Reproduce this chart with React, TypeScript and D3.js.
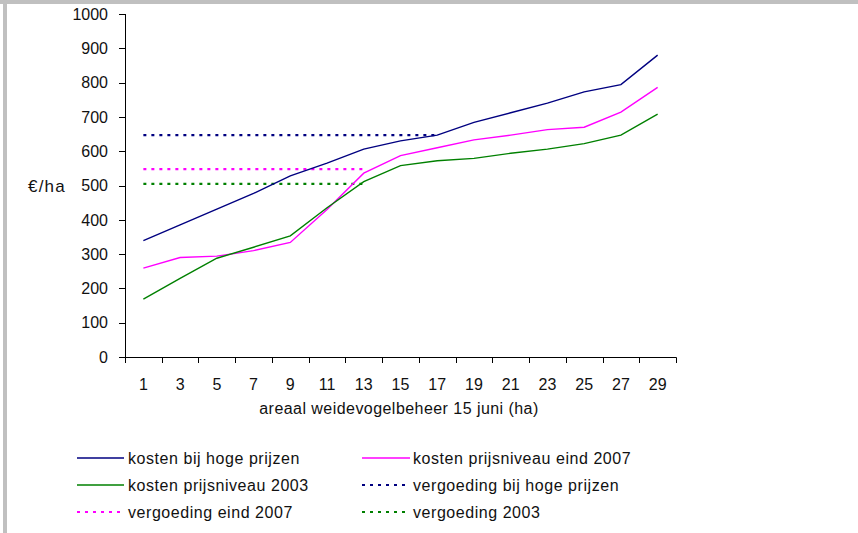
import React from "react";
import * as d3 from "d3";

const categories = [1, 3, 5, 7, 9, 11, 13, 15, 17, 19, 21, 23, 25, 27, 29];
const kostenHoge = [339, 385, 431, 477, 528, 565, 606, 630, 647, 684, 712, 740, 773, 794, 880];
const kosten2007 = [259, 290, 294, 310, 334, 430, 536, 587, 610, 633, 647, 663, 670, 714, 786];
const kosten2003 = [169, 229, 288, 320, 353, 435, 511, 558, 572, 579, 594, 606, 622, 647, 708];
const vergoedingHoge = [647, 647, 647, 647, 647, 647, 647, 647, 647, null, null, null, null, null, null];
const vergoeding2007 = [548, 548, 548, 548, 548, 548, 548, null, null, null, null, null, null, null, null];
const vergoeding2003 = [505, 505, 505, 505, 505, 505, 505, null, null, null, null, null, null, null, null];
const yTicks = [0, 100, 200, 300, 400, 500, 600, 700, 800, 900, 1000];

const seriesNames = [
  "kosten bij hoge prijzen",
  "kosten prijsniveau eind 2007",
  "kosten prijsniveau 2003",
  "vergoeding bij hoge prijzen",
  "vergoeding eind 2007",
  "vergoeding 2003",
];
const xTitle = "areaal weidevogelbeheer 15 juni (ha)";
const yTitle = "€/ha";

const NAVY = "#000080";
const MAGENTA = "#FF00FF";
const GREEN = "#008000";
const FONT = "'Liberation Sans', Arial, sans-serif";

export default function App() {
  const x = d3.scaleBand<number>().domain(categories).range([125, 676]).padding(0);
  const y = d3.scaleLinear().domain([0, 1000]).range([357, 14]);
  const cx = (c: number) => (x(c) as number) + x.bandwidth() / 2;

  const line = d3
    .line<number | null>()
    .defined((d) => d !== null)
    .x((_, i) => cx(categories[i]))
    .y((d) => y(d as number));

  const series = [
    { vals: kostenHoge, color: NAVY, dash: null },
    { vals: kosten2007, color: MAGENTA, dash: null },
    { vals: kosten2003, color: GREEN, dash: null },
    { vals: vergoedingHoge, color: NAVY, dash: "3 5" },
    { vals: vergoeding2007, color: MAGENTA, dash: "3 5" },
    { vals: vergoeding2003, color: GREEN, dash: "3 5" },
  ];

  const boundaries = [...categories.map((c) => x(c) as number), 676];

  const legendRows = [458, 485, 512];
  const legendCols = [
    { x1: 77, x2: 124, tx: 128 },
    { x1: 362, x2: 410, tx: 413 },
  ];

  return (
    <svg
      width={858}
      height={533}
      style={{ position: "absolute", left: 0, top: 0, background: "#fff" }}
      fontFamily={FONT}
    >
      <rect x={0} y={0} width={858} height={533} fill="#fff" />
      {/* frame */}
      <rect x={0} y={0} width={858} height={4} fill="#c0c0c0" />
      <rect x={3} y={0} width={4} height={533} fill="#c0c0c0" />

      {/* dotted lines first */}
      {series.map((s, i) =>
        s.dash ? (
          <path
            key={"d" + i}
            d={line(s.vals) || ""}
            fill="none"
            stroke={s.color}
            strokeWidth={2.2}
            strokeDasharray={s.dash}
          />
        ) : null
      )}
      {series.map((s, i) =>
        !s.dash ? (
          <path key={"s" + i} d={line(s.vals) || ""} fill="none" stroke={s.color} strokeWidth={1.4} />
        ) : null
      )}

      {/* y axis */}
      <line x1={125.5} x2={125.5} y1={y(1000)} y2={y(0)} stroke="#000" strokeWidth={1} />
      {yTicks.map((t) => (
        <g key={t}>
          <line x1={119} x2={125.5} y1={Math.round(y(t)) + 0.5} y2={Math.round(y(t)) + 0.5} stroke="#000" />
          <text x={108} y={y(t)} dy="0.36em" textAnchor="end" fontSize={16} fill="#111">
            {t}
          </text>
        </g>
      ))}
      <text x={28} y={y(500)} dy="0.36em" fontSize={17} fill="#111" letterSpacing={1.2}>
        {yTitle}
      </text>

      {/* x axis */}
      <line x1={125} x2={676.5} y1={357.5} y2={357.5} stroke="#000" strokeWidth={1} />
      {boundaries.map((b, i) => (
        <line key={i} x1={Math.round(b) + 0.5} x2={Math.round(b) + 0.5} y1={357.5} y2={363} stroke="#000" />
      ))}
      {categories.map((c) => (
        <text key={c} x={cx(c)} y={390} textAnchor="middle" fontSize={16} fill="#111">
          {c}
        </text>
      ))}
      <text x={399} y={414} textAnchor="middle" fontSize={16} fill="#111" letterSpacing={0.45}>
        {xTitle}
      </text>

      {/* legend */}
      {series.map((s, i) => {
        const col = legendCols[i % 2];
        const ry = legendRows[Math.floor(i / 2)];
        return (
          <g key={"l" + i}>
            <line
              x1={col.x1}
              x2={col.x2}
              y1={ry}
              y2={ry}
              stroke={s.color}
              strokeWidth={s.dash ? 2.2 : 1.4}
              strokeDasharray={s.dash || undefined}
            />
            <text x={col.tx} y={ry} dy="0.36em" fontSize={16} fill="#111" letterSpacing={0.55}>
              {seriesNames[i]}
            </text>
          </g>
        );
      })}
    </svg>
  );
}
